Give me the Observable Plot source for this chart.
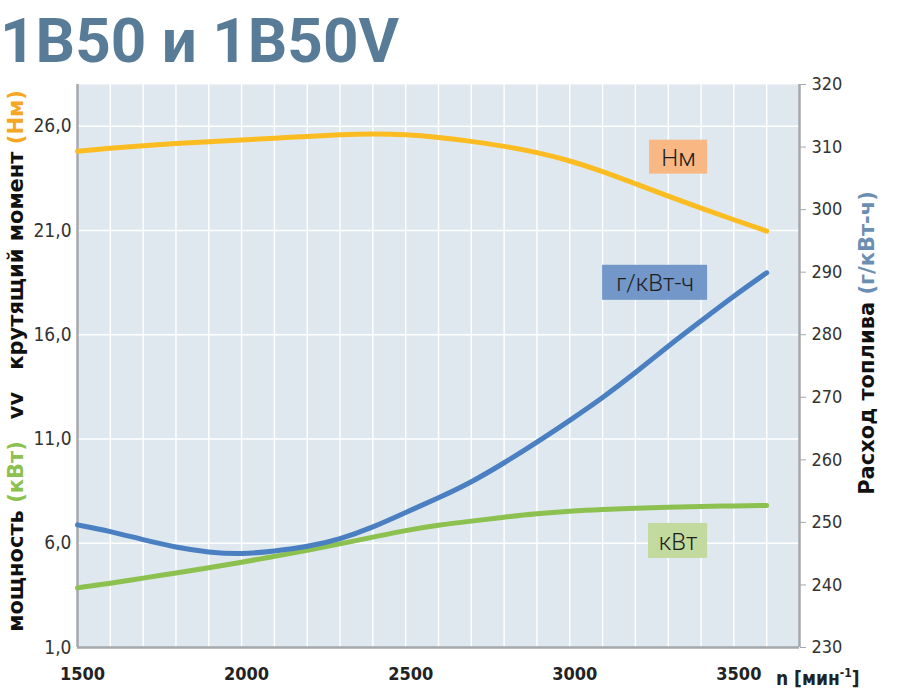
<!DOCTYPE html>
<html><head><meta charset="utf-8">
<script src="https://cdn.jsdelivr.net/npm/d3@7"></script>
<script src="https://cdn.jsdelivr.net/npm/@observablehq/plot@0.6"></script>
<style>
body{margin:0;background:#fff;}
#title{height:70px;position:relative;overflow:visible;}
#title span{position:absolute;left:0px;top:9px;font:700 62px/63px Roboto, "DejaVu Sans", sans-serif;color:#587c97;white-space:nowrap;}
#chart svg{display:block;}
</style></head><body>
<div id="title"><span>1B50 и 1B50V</span></div>
<div id="chart"></div>
<script>
// ---- data ----
const rpm    = [1500,1600,1700,1800,1900,2000,2100,2200,2300,2400,2500,2600,2700,2800,2900,3000,3100,3200,3300,3400,3500,3600];
const torque = [24.80,24.95,25.07,25.17,25.26,25.34,25.42,25.51,25.59,25.64,25.60,25.47,25.28,25.04,24.75,24.35,23.84,23.24,22.64,22.07,21.51,20.97]; // Нм
const power  = [3.86,4.08,4.33,4.57,4.82,5.09,5.37,5.65,5.97,6.29,6.62,6.87,7.06,7.25,7.42,7.54,7.62,7.68,7.73,7.77,7.79,7.81]; // кВт
const fuel   = [249.6,248.6,247.2,246.0,245.2,244.9,245.4,246.1,247.3,249.2,251.6,253.9,256.4,259.5,262.8,266.3,269.9,273.9,278.2,282.2,286.2,289.9]; // г/кВт-ч

const xTicks     = [1500,2000,2500,3000,3500];
const leftTicks  = [1,6,11,16,21,26];
const rightTicks = [230,240,250,260,270,280,290,300,310,320];
const gridRpm    = [1600,1700,1800,1900,2000,2100,2200,2300,2400,2500,2600,2700,2800,2900,3000,3100,3200,3300,3400,3500,3600];

// series tags (placed in data coordinates: rpm / left-axis units)
const tagText = ["Нм","г/кВт-ч","кВт"];
const tagX1   = [3243,3100,3240];
const tagX2   = [3420,3420,3420];
const tagY1   = [23.70,17.65,5.27];
const tagY2   = [25.33,19.33,6.95];
const tagFill = ["#f9b784","#7297c8","#c2da9d"];

// ---- scales ----
const LEFT = [1,28], RIGHT = [230,320];
const toLeft = f => LEFT[0] + (f - RIGHT[0]) * (LEFT[1]-LEFT[0]) / (RIGHT[1]-RIGHT[0]);
const fromLeft = v => RIGHT[0] + (v - LEFT[0]) * (RIGHT[1]-RIGHT[0]) / (LEFT[1]-LEFT[0]);

const rows = rpm.map((r,i) => ({rpm:r, torque:torque[i], power:power[i], fuel:toLeft(fuel[i])}));
const tags = tagText.map((t,i) => ({text:t, x1:tagX1[i], x2:tagX2[i], y1:tagY1[i], y2:tagY2[i], fill:tagFill[i]}));

const COND = '"DejaVu Sans Condensed", "DejaVu Sans", sans-serif';
const AX = "#a6a9ac";

const plot = Plot.plot({
  width: 905, height: 630,
  marginLeft: 77, marginRight: 106, marginTop: 14, marginBottom: 53,
  x: {domain: [1500, 3700]},
  y: {domain: LEFT},
  style: {fontFamily: COND, background: "white", overflow: "visible"},
  marks: [
    Plot.frame({fill: "#dfe8ef", stroke: null}),
    Plot.gridX(gridRpm, {stroke: "white", strokeOpacity: 1, strokeWidth: 1.4}),
    Plot.gridY(leftTicks.slice(1), {stroke: "white", strokeOpacity: 1, strokeWidth: 1.4}),
    Plot.ruleX([1500, 3700], {stroke: AX, strokeWidth: 2.5}),
    Plot.ruleY([1], {stroke: AX, strokeWidth: 2.5}),
    Plot.axisY(leftTicks, {anchor: "left", tickSize: 0, tickPadding: 6, fontSize: 19, fill: "#333",
      tickFormat: d => d.toFixed(1).replace(".", ","), label: null}),
    Plot.axisY(rightTicks.map(toLeft), {anchor: "right", tickSize: 6, tickPadding: 6, fontSize: 18,
      stroke: AX, fill: "#333", tickFormat: d => String(Math.round(fromLeft(d))), label: null}),
    Plot.axisX(xTicks, {tickSize: 0, tickPadding: 20, fontSize: 18, fontWeight: "bold", fill: "#222", dx: 5,
      tickFormat: d => String(d), label: null}),
    Plot.line(rows, {x: "rpm", y: "torque", stroke: "#fbbc22", strokeWidth: 5, curve: "basis"}),
    Plot.line(rows, {x: "rpm", y: "power", stroke: "#8cc04f", strokeWidth: 5, curve: "basis"}),
    Plot.line(rows, {x: "rpm", y: "fuel", stroke: "#4a7fc1", strokeWidth: 5, curve: "basis"}),
    Plot.rect(tags, {x1: "x1", x2: "x2", y1: "y1", y2: "y2", fill: "fill"}),
    Plot.text(tags, {x: d => (d.x1 + d.x2) / 2, y: d => (d.y1 + d.y2) / 2, text: "text",
      fontSize: 24, fontWeight: 300, fontFamily: "Roboto, sans-serif", fill: "#1e1e1e", dy: 1})
  ]
});
document.getElementById("chart").appendChild(plot);

// ---- axis titles (multi-coloured, rotated) ----
const svg = d3.select(plot);
const side = "'DejaVu Sans', Roboto, sans-serif";
const lt = svg.append("text")
  .attr("transform", "translate(23,291) rotate(-90)")
  .attr("text-anchor", "middle")
  .style("font-family", side).style("font-weight", "bold").style("font-size", "21px").attr("fill", "#111");
lt.append("tspan").text("мощность ");
lt.append("tspan").attr("fill", "#8cc04f").text("(кВт)");
lt.append("tspan").attr("dx", 22).text("vv");
lt.append("tspan").attr("dx", 22).text("крутящий момент ");
lt.append("tspan").attr("fill", "#f5a623").text("(Нм)");

const rt = svg.append("text")
  .attr("transform", "translate(874,273) rotate(-90)")
  .attr("text-anchor", "middle")
  .style("font-family", side).style("font-weight", "bold").style("font-size", "21px").attr("fill", "#111");
rt.append("tspan").text("Расход топлива ");
rt.append("tspan").attr("fill", "#6b8fb3").text("(г/кВт-ч)");

const xl = svg.append("text")
  .attr("x", 776).attr("y", 615).attr("text-anchor", "start")
  .style("font-family", COND).style("font-weight", "bold").style("font-size", "19px").attr("fill", "#222");
xl.append("tspan").text("n [мин");
xl.append("tspan").attr("dy", -8).style("font-size", "12px").text("-1");
xl.append("tspan").attr("dy", 8).text("]");
</script>
</body></html>
